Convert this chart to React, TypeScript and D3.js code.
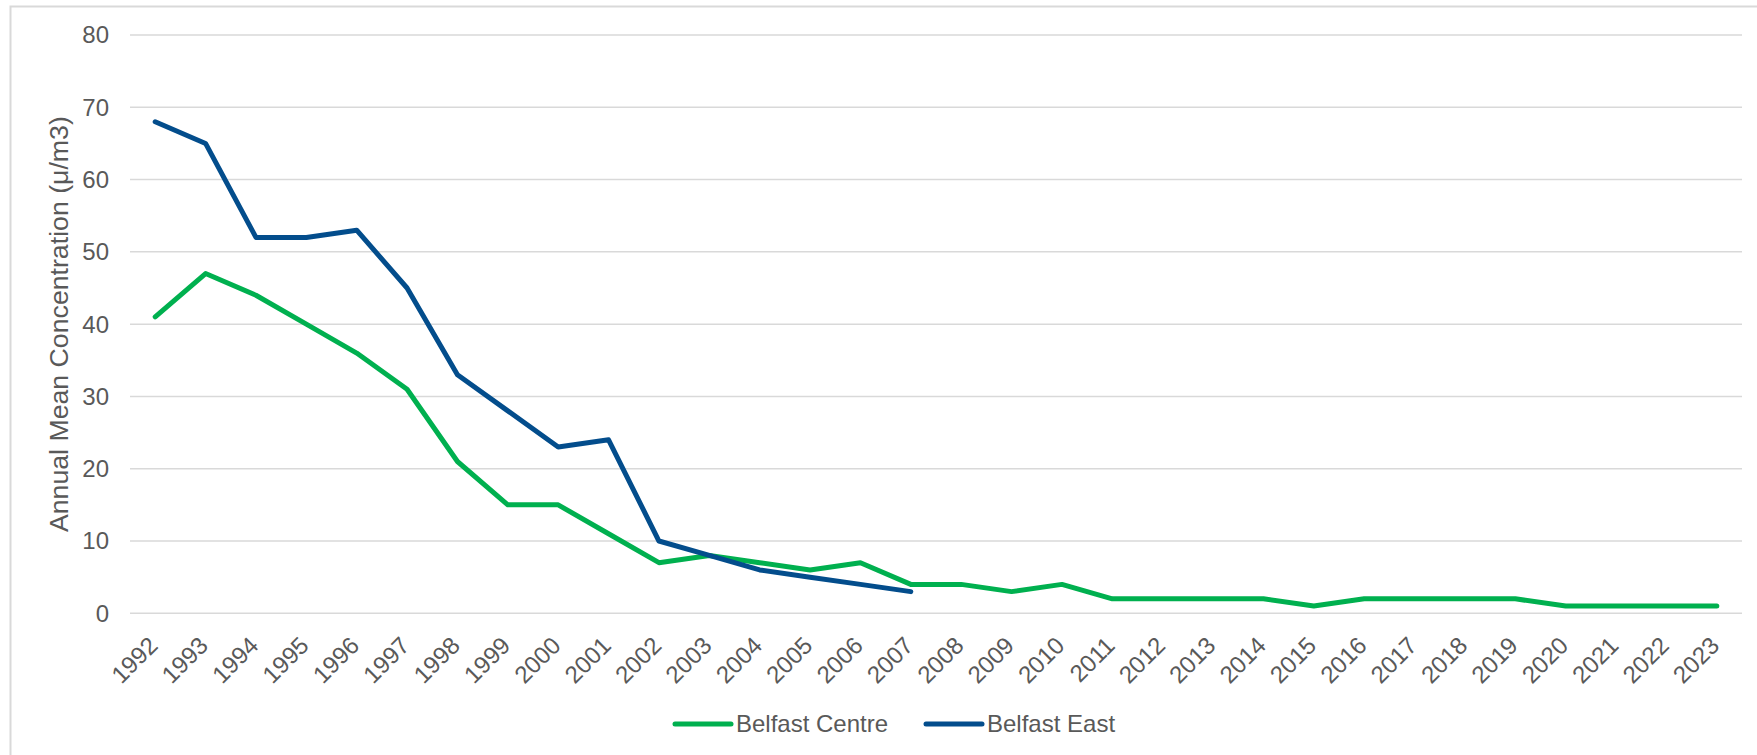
import React from "react";
import * as d3 from "d3";

const years = d3.range(1992, 2024).map(String);
const centreValues = [41, 47, 44, 40, 36, 31, 21, 15, 15, 11, 7, 8, 7, 6, 7, 4, 4, 3, 4, 2, 2, 2, 2, 1, 2, 2, 2, 2, 1, 1, 1, 1];
const eastValues = [68, 65, 52, 52, 53, 45, 33, 28, 23, 24, 10, 8, 6, 5, 4, 3];
const yTicks = [0, 10, 20, 30, 40, 50, 60, 70, 80];
const seriesNames = ["Belfast Centre", "Belfast East"];
const seriesColors = ["#00b04f", "#034d8c"];

const W = 1757;
const H = 755;
const FONT = "'Liberation Sans', Arial, sans-serif";
const TXT = "#595959";

export default function App() {
  const x = d3.scaleBand<string>().domain(years).range([130, 1742]);
  const y = d3.scaleLinear().domain([0, 80]).range([613.3, 35]);
  const cx = (yr: string) => (x(yr) as number) + x.bandwidth() / 2;
  const line = d3
    .line<number>()
    .x((_, i) => cx(years[i]))
    .y((d) => y(d));
  const series = [centreValues, eastValues];
  const legend = [
    { x0: 675, x1: 731, tx: 736 },
    { x0: 926, x1: 982, tx: 987 },
  ];
  return (
    <svg
      width={W}
      height={H}
      style={{ position: "absolute", left: 0, top: 0, background: "#fff" }}
      fontFamily={FONT}
    >
      <rect x={10.5} y={6.5} width={1800} height={800} fill="#fff" stroke="#d9d9d9" strokeWidth={2} />
      {yTicks.map((t) => (
        <g key={t}>
          <line x1={130} x2={1742} y1={y(t)} y2={y(t)} stroke="#d9d9d9" strokeWidth={1.5} />
          <text x={109} y={y(t)} dy="0.35em" textAnchor="end" fontSize={24} fill={TXT}>
            {t}
          </text>
        </g>
      ))}
      {years.map((yr) => (
        <text
          key={yr}
          transform={`translate(${cx(yr) - 2},${641}) rotate(-45)`}
          dy="0.35em"
          textAnchor="end"
          fontSize={24}
          fill={TXT}
        >
          {yr}
        </text>
      ))}
      <text
        transform={`translate(68,${(y(0) + y(80)) / 2}) rotate(-90)`}
        textAnchor="middle"
        fontSize={26.7}
        fill={TXT}
      >
        Annual Mean Concentration (μ/m3)
      </text>
      {series.map((vals, i) => (
        <path
          key={i}
          d={line(vals) || ""}
          fill="none"
          stroke={seriesColors[i]}
          strokeWidth={5}
          strokeLinejoin="round"
          strokeLinecap="round"
        />
      ))}
      {seriesNames.map((name, i) => (
        <g key={name}>
          <line
            x1={legend[i].x0}
            x2={legend[i].x1}
            y1={724}
            y2={724}
            stroke={seriesColors[i]}
            strokeWidth={5}
            strokeLinecap="round"
          />
          <text x={legend[i].tx} y={724} dy="0.35em" fontSize={24} fill={TXT}>
            {name}
          </text>
        </g>
      ))}
    </svg>
  );
}
